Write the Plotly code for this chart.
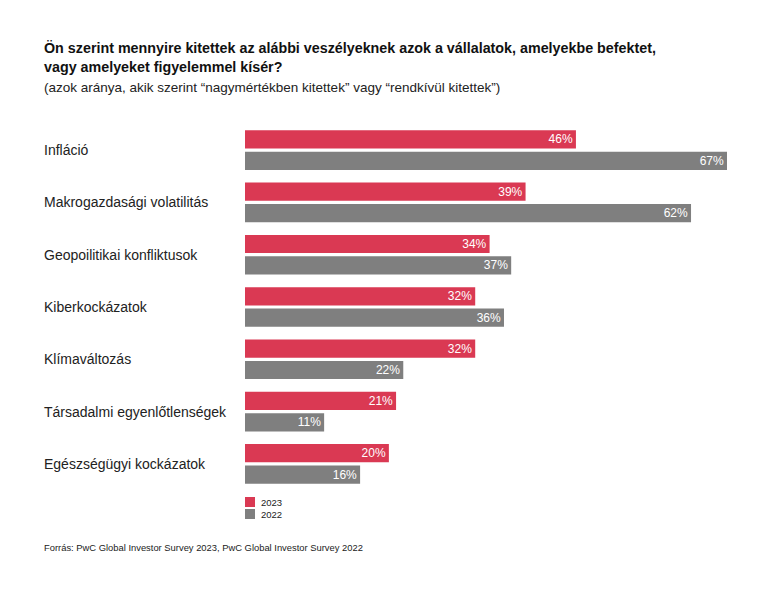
import plotly.graph_objects as go

categories = ["Infláció", "Makrogazdasági volatilitás", "Geopoilitikai konfliktusok",
              "Kiberkockázatok", "Klímaváltozás", "Társadalmi egyenlőtlenségek",
              "Egészségügyi kockázatok"]
values_2023 = [46, 39, 34, 32, 32, 21, 20]
values_2022 = [67, 62, 37, 36, 22, 11, 16]
series_names = ["2023", "2022"]
colors = ["#DA3953", "#7F7F7F"]

W, H = 768, 591
OFF = 8  # page body margin
ML, MR, MT, MB = 245 - OFF, 41 + OFF, 124 - OFF, 101 + OFF

fig = go.Figure()
for name, vals, col in zip(series_names, [values_2023, values_2022], colors):
    fig.add_trace(go.Bar(
        y=categories, x=vals, orientation="h", name=name,
        marker=dict(color=col, line=dict(width=0)),
        text=[f"{v}%" for v in vals], textposition="inside",
        insidetextanchor="end", textangle=0, constraintext="none",
        insidetextfont=dict(color="white", size=12, family="Liberation Sans, Arial"),
        showlegend=False,
    ))

fig.update_layout(
    width=W, height=H,
    margin=dict(l=ML, r=MR, t=MT, b=MB, pad=0),
    barmode="group", bargap=0.18, bargroupgap=0.15,
    plot_bgcolor="white", paper_bgcolor="white",
    font=dict(family="Liberation Sans, Arial", color="#222222"),
    xaxis=dict(range=[0, 67], visible=False, fixedrange=True),
    yaxis=dict(autorange="reversed", showticklabels=False, showgrid=False,
               zeroline=False, showline=False, ticks=""),
)

pw = W - ML - MR
ph = H - MT - MB
def px_x(x):
    return (x - OFF - ML) / pw
def px_y(y):
    return 1 - (y - OFF - MT) / ph

# Category labels (left aligned)
for c in categories:
    fig.add_annotation(x=px_x(42), xref="paper", y=c, yref="y", text=c,
                       showarrow=False, xanchor="left", yanchor="middle",
                       font=dict(size=14, color="#222222"))

# Title and subtitle
fig.add_annotation(x=px_x(42), y=px_y(57.5), xref="paper", yref="paper",
                   text="<b>Ön szerint mennyire kitettek az alábbi veszélyeknek azok a vállalatok, amelyekbe befektet,<br>vagy amelyeket figyelemmel kísér?</b>",
                   showarrow=False, xanchor="left", yanchor="middle", align="left",
                   font=dict(size=14.3, color="#111111"))
fig.add_annotation(x=px_x(42), y=px_y(87), xref="paper", yref="paper",
                   text="(azok aránya, akik szerint “nagymértékben kitettek” vagy “rendkívül kitettek”)",
                   showarrow=False, xanchor="left", yanchor="middle", align="left",
                   font=dict(size=13.5, color="#222222"))

# Legend (manual)
for i, (name, col) in enumerate(zip(series_names, colors)):
    yc = 502 + i * 12
    fig.add_shape(type="rect", xref="paper", yref="paper",
                  x0=px_x(245), x1=px_x(255), y0=px_y(yc - 5), y1=px_y(yc + 5),
                  fillcolor=col, line=dict(width=0))
    fig.add_annotation(x=px_x(259), y=px_y(yc), xref="paper", yref="paper",
                       text=name, showarrow=False, xanchor="left", yanchor="middle",
                       font=dict(size=9.5, color="#222222"))

# Footer
fig.add_annotation(x=px_x(42), y=px_y(547), xref="paper", yref="paper",
                   text="Forrás: PwC Global Investor Survey 2023, PwC Global Investor Survey 2022",
                   showarrow=False, xanchor="left", yanchor="middle",
                   font=dict(size=9.4, color="#222222"))

fig.write_html("out.html")
